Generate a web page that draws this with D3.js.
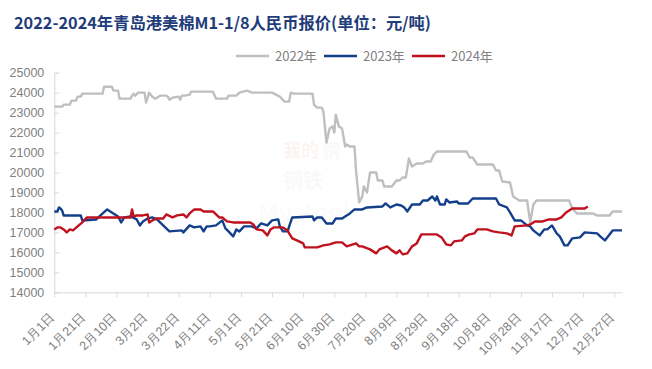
<!DOCTYPE html>
<html>
<head>
<meta charset="utf-8">
<script src="https://cdn.jsdelivr.net/npm/d3@7"></script>
<style>
  body { margin: 0; background: #fff; }
  svg { display: block; font-family: "Noto Sans CJK SC", "Noto Sans", sans-serif; }
</style>
</head>
<body>
<svg id="chart"></svg>
<script>
// series: [day of year (0 = 1月1日), price]
const s2022 = [[0,23300],[5,23300],[6,23400],[10,23400],[11,23600],[14,23600],[15,23800],[17,23800],[18,23950],[31,23950],
  [32,24300],[37,24300],[38,24100],[41,24100],[42,23700],[49,23700],[50,23850],[51,23950],[52,23850],[54,24000],[58,24000],
  [59,23500],[61,24000],[63,23800],[65,23700],[68,23850],[72,23850],[73,23800],[74,23650],[76,23750],[80,23800],[81,23650],
  [82,23850],[84,23850],[87,23900],[88,24050],[102,24050],[104,23700],[111,23700],[112,23850],[117,23850],[119,24000],
  [124,24100],[127,24000],[140,24000],[145,23800],[148,23550],[151,23550],[152,24000],[154,23950],[166,23950],[167,23400],
  [169,23250],[172,23250],[173,23050],[175,21500],[177,22200],[179,22300],[180,22000],[181,22900],[183,22300],[185,22200],
  [187,21300],[188,21400],[190,21300],[193,21300],[194,20100],[196,18500],[198,18800],[199,19300],[201,19000],[203,20000],
  [207,20000],[208,19600],[211,19600],[212,19300],[217,19300],[220,19600],[222,19600],[224,19750],[226,19750],[228,20700],
  [230,20300],[233,20450],[237,20450],[239,20550],[242,20550],[244,20900],[246,21050],[265,21050],[267,20750],[269,20750],
  [272,20400],[282,20400],[284,20100],[286,20100],[288,19550],[293,19500],[295,18800],[299,18600],[304,18600],[306,17500],
  [308,18400],[310,18600],[331,18600],[333,18200],[336,17950],[346,17950],[349,17850],[357,17850],[359,18050],[365,18050]];
const s2023 = [[0,18050],[2,18050],[3,18250],[4,18200],[5,18100],[6,17850],[17,17850],[18,17600],[27,17650],[29,17800],
  [34,18150],[38,17950],[41,17800],[43,17500],[45,17750],[49,17800],[53,17650],[55,17350],[57,17550],[60,17700],[63,17750],
  [66,17650],[70,17350],[74,17050],[82,17100],[83,17000],[87,17350],[90,17250],[94,17300],[96,17050],[98,17300],[100,17300],
  [104,17350],[108,17600],[110,17200],[112,17050],[115,16800],[117,17150],[119,17050],[122,17300],[127,17300],[130,17200],
  [133,17450],[137,17350],[140,17600],[144,17650],[145,17300],[147,17050],[150,17050],[151,17300],[153,17750],[166,17800],
  [167,17600],[169,17750],[172,17750],[175,17450],[179,17450],[181,17700],[185,17700],[190,17950],[193,18150],[198,18150],
  [201,18250],[211,18300],[213,18450],[216,18250],[220,18400],[223,18350],[225,18250],[227,18050],[230,18400],[235,18400],
  [237,18600],[240,18600],[243,18800],[245,18600],[246,18800],[248,18400],[251,18400],[252,18650],[254,18500],[259,18550],
  [260,18450],[266,18450],[269,18700],[284,18700],[286,18400],[291,18250],[293,18000],[296,17600],[300,17600],[304,17350],
  [306,17300],[308,17100],[312,16850],[315,17150],[317,17150],[320,17350],[323,16950],[325,16800],[328,16350],[330,16350],
  [333,16700],[338,16750],[341,17000],[349,16950],[351,16800],[354,16600],[356,16800],[359,17100],[365,17100]];
const s2024 = [[0,17150],[2,17250],[4,17250],[6,17150],[8,17000],[10,17150],[12,17100],[15,17300],[18,17500],[21,17750],
  [49,17750],[50,18150],[51,17800],[53,17850],[57,17850],[60,17900],[61,17500],[63,17600],[66,17700],[70,17700],[72,17900],
  [76,17750],[79,17850],[83,17900],[85,17750],[87,17950],[90,18150],[94,18150],[96,18050],[102,18050],[104,17900],
  [106,17750],[108,17750],[111,17550],[115,17500],[126,17500],[128,17400],[130,17150],[134,17100],[137,16850],[139,17150],
  [141,17250],[147,17250],[150,17100],[151,16950],[153,16700],[156,16600],[160,16450],[161,16250],[169,16250],[173,16350],
  [177,16400],[181,16500],[185,16500],[188,16300],[190,16350],[194,16450],[196,16300],[198,16300],[203,16150],[207,15950],
  [209,16150],[214,16300],[217,16100],[220,15950],[222,16100],[224,15900],[227,15950],[230,16300],[233,16450],[236,16900],
  [246,16900],[249,16750],[252,16400],[255,16350],[257,16550],[262,16600],[264,16800],[267,16900],[270,16950],[272,17150],
  [278,17150],[282,17050],[286,17000],[291,16950],[294,16850],[296,17300],[304,17350],[306,17400],[309,17550],[314,17550],
  [318,17650],[323,17650],[326,17750],[329,18000],[333,18200],[336,18200],[341,18200],[343,18300]];

const seriesNames = ["2022年", "2023年", "2024年"];
const seriesData = [s2022, s2023, s2024];
const seriesColors = ["#BFBFBF", "#133F8B", "#C0111F"];

const tickDays = [0,20,40,60,80,100,120,140,160,180,200,220,240,260,280,300,320,340,360];
const tickLabels = ["1月1日","1月21日","2月10日","3月2日","3月22日","4月11日","5月1日","5月21日","6月10日","6月30日",
  "7月20日","8月9日","8月29日","9月18日","10月8日","10月28日","11月17日","12月7日","12月27日"];
const yTicks = [14000,15000,16000,17000,18000,19000,20000,21000,22000,23000,24000,25000];

const svgWidth = 652, svgHeight = 369;
const svg = d3.select("#chart").attr("width", svgWidth).attr("height", svgHeight);

var xScale = d3.scaleLinear().domain([0, 365]).range([54.3, 622]);
var yScale = d3.scaleLinear().domain([14000, 25000]).range([292.3, 72.7]);

// title
svg.append("text")
  .attr("x", 14).attr("y", 29)
  .attr("font-size", "16.3px").attr("font-weight", "bold")
  .attr("fill", "#1F3D7A")
  .text("2022-2024年青岛港美棉M1-1/8人民币报价(单位：元/吨)");

// faint watermark
var wm = svg.append("g").attr("opacity", 0.06);
wm.append("text").attr("x", 283).attr("y", 157).attr("font-size", "18px").attr("font-weight", "bold").attr("fill", "#E04040").text("我的");
wm.append("text").attr("x", 322).attr("y", 157).attr("font-size", "18px").attr("font-weight", "bold").attr("fill", "#9AA8BC").text("钢");
wm.append("text").attr("x", 283).attr("y", 188).attr("font-size", "20px").attr("font-weight", "bold").attr("fill", "#9AA8BC").text("钢铁");
wm.append("text").attr("x", 258).attr("y", 222).attr("font-size", "26px").attr("fill", "#B8C2D0").text("Mysteel");

// y axis
var yAxis = d3.axisLeft(yScale).tickValues(yTicks).tickSize(-5).tickPadding(10).tickFormat(d3.format("d"));
var gy = svg.append("g").attr("transform", "translate(54.3,0)").call(yAxis);
gy.select(".domain").attr("stroke", "#D9D9D9");
gy.selectAll(".tick line").attr("stroke", "#D9D9D9");
gy.selectAll("text").attr("font-size", "12.5px").attr("fill", "#808080")
  .attr("font-family", "'Liberation Sans', sans-serif");

// x axis
var xAxis = d3.axisBottom(xScale).tickValues(tickDays).tickSize(5).tickSizeOuter(0)
  .tickFormat(function(d, i) { return tickLabels[i]; });
var gx = svg.append("g").attr("transform", "translate(0,292.3)").call(xAxis);
gx.select(".domain").attr("stroke", "#D9D9D9");
gx.selectAll(".tick line").attr("stroke", "#D9D9D9");
gx.selectAll("text")
  .attr("x", 0).attr("y", 0).attr("dy", 0)
  .attr("text-anchor", "end")
  .attr("transform", "translate(0.5,25.5) rotate(-45)")
  .attr("font-size", "12.5px").attr("fill", "#808080");

// lines
var valueline = d3.line()
  .x(function(d) { return xScale(d[0]); })
  .y(function(d) { return yScale(d[1]); })
  .curve(d3.curveLinear);

seriesData.forEach(function(s, i) {
  svg.append("path")
    .datum(s)
    .attr("fill", "none")
    .attr("stroke", seriesColors[i])
    .attr("stroke-width", 2.4)
    .attr("stroke-linejoin", "round")
    .attr("d", valueline);
});

// legend
var legend = svg.append("g").attr("transform", "translate(236,56)");
seriesNames.forEach(function(name, i) {
  var item = legend.append("g").attr("transform", "translate(" + (i * 88) + ",0)");
  item.append("line").attr("x1", 0).attr("x2", 33).attr("y1", 0).attr("y2", 0)
    .attr("stroke", seriesColors[i]).attr("stroke-width", 2.5);
  item.append("text").attr("x", 39).attr("y", 5).attr("font-size", "13px").attr("fill", "#808080").text(name);
});
</script>
</body>
</html>
